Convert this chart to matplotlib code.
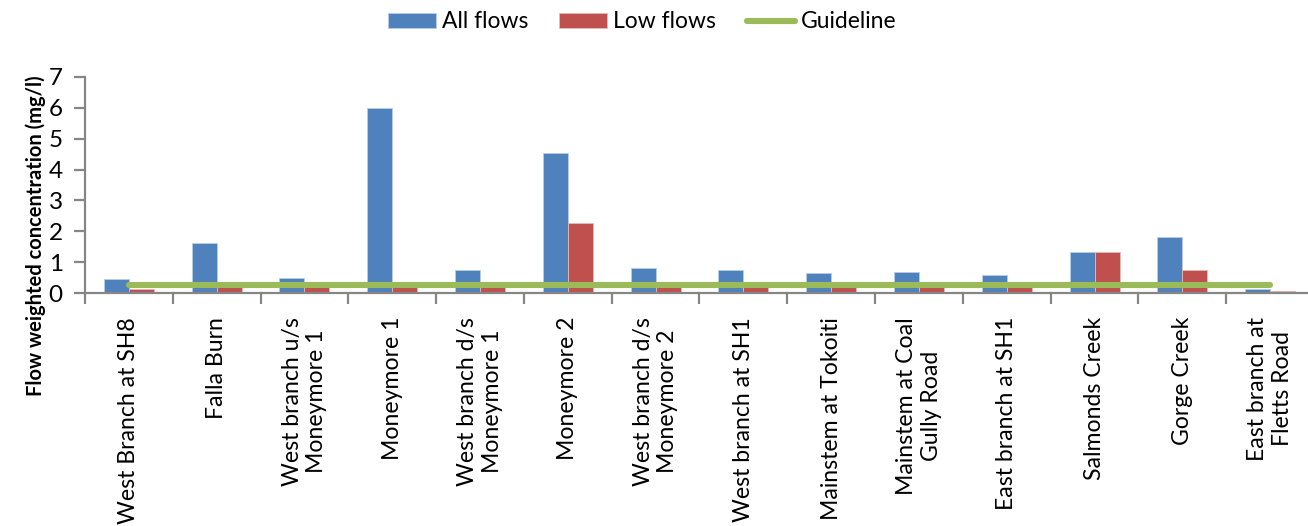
import matplotlib
matplotlib.use("Agg")
import matplotlib.pyplot as plt
import numpy as np

sites = [
    "West Branch at SH8",
    "Falla Burn",
    "West branch u/s\nMoneymore 1",
    "Moneymore 1",
    "West branch d/s\nMoneymore 1",
    "Moneymore 2",
    "West branch d/s\nMoneymore 2",
    "West branch at SH1",
    "Mainstem at Tokoiti",
    "Mainstem at Coal\nGully Road",
    "East branch at SH1",
    "Salmonds Creek",
    "Gorge Creek",
    "East branch at\nFletts Road",
]
all_flows = [0.45, 1.62, 0.48, 5.98, 0.75, 4.52, 0.82, 0.75, 0.66, 0.68, 0.59, 1.33, 1.83, 0.14]
low_flows = [0.13, 0.20, 0.20, 0.20, 0.20, 2.26, 0.20, 0.20, 0.20, 0.20, 0.20, 1.33, 0.75, 0.07]
guideline = 0.28
y_ticks = [0, 1, 2, 3, 4, 5, 6, 7]

plt.rcParams["font.family"] = ["Lato", "DejaVu Sans"]

W, H = 1308, 526
fig = plt.figure(figsize=(W / 100, H / 100), dpi=100)
ax = fig.add_axes([85 / W, (H - 293.3) / H, (1314 - 85) / W, (293.3 - 76.7) / H])

x = np.arange(len(sites))
bw = 0.285
axis_grey = "#868686"

b1 = ax.bar(x - bw / 2, all_flows, bw, color="#4F81BD", edgecolor="#B9CDE5",
            linewidth=0.6, label="All flows", zorder=2)
b2 = ax.bar(x + bw / 2, low_flows, bw, color="#C0504D", edgecolor="#E6B9B8",
            linewidth=0.6, label="Low flows", zorder=2)
gl, = ax.plot(x, [guideline] * len(x), color="#9BBB59", linewidth=4.4,
              solid_capstyle="round", label="Guideline", zorder=3)

ax.set_xlim(-0.5, len(sites) - 0.5)
ax.set_ylim(0, 7)
ax.set_yticks(y_ticks)
ax.set_yticklabels([str(v) for v in y_ticks], fontsize=17.5)

ax.set_xticks(np.arange(len(sites) + 1) - 0.5, minor=False)
ax.set_xticklabels([])
ax.set_xticks(x, minor=True)
ax.set_xticklabels(sites, minor=True, rotation=90, fontsize=16.6,
                   ha="center", va="top", multialignment="center")
ax.tick_params(axis="x", which="minor", length=0, pad=17)
ax.tick_params(axis="x", which="major", length=8, width=1.6, color=axis_grey, direction="out")
ax.tick_params(axis="y", length=8, width=1.6, color=axis_grey, direction="out", pad=8)

for side in ("top", "right"):
    ax.spines[side].set_visible(False)
for side in ("left", "bottom"):
    ax.spines[side].set_color(axis_grey)
    ax.spines[side].set_linewidth(1.6)

ax.set_ylabel("Flow weighted concentration (mg/l)", fontsize=14.5, fontweight="bold")
ax.yaxis.set_label_coords(46 / W, (H - 236) / H, transform=fig.transFigure)

fig.legend([b1, b2, gl], ["All flows", "Low flows", "Guideline"],
           loc="center", bbox_to_anchor=(642 / W, (H - 22) / H), ncol=3,
           frameon=False, fontsize=16.5, handlelength=2.1, handleheight=0.65,
           columnspacing=1.35, handletextpad=0.25)

fig.savefig("out.png", dpi=100)
